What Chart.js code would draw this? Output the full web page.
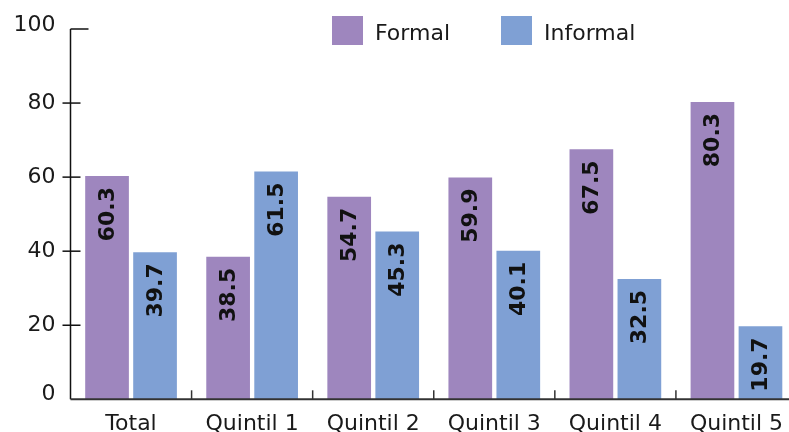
<!DOCTYPE html>
<html>
<script src="https://cdn.jsdelivr.net/npm/chart.js@4.4.0/dist/chart.umd.min.js"></script>
<body style="margin:0;overflow:hidden;background:#fff">

<canvas id="myChart" width="800" height="432"></canvas>

<script>
var categories = ["Total", "Quintil 1", "Quintil 2", "Quintil 3", "Quintil 4", "Quintil 5"];
var formalValues = [60.3, 38.5, 54.7, 59.9, 67.5, 80.3];
var informalValues = [39.7, 61.5, 45.3, 40.1, 32.5, 19.7];
var seriesNames = ["Formal", "Informal"];
var seriesColors = ["#9e86be", "#7fa0d4"];
var yTicks = [0, 20, 40, 60, 80, 100];

var FONT = "'DejaVu Sans', sans-serif";

// value labels written sideways near the top of each bar
var barLabels = {
  id: 'barLabels',
  afterDatasetsDraw(chart) {
    const ctx = chart.ctx;
    ctx.save();
    ctx.fillStyle = '#111';
    ctx.font = "bold 22px " + FONT;
    ctx.textAlign = 'right';
    ctx.textBaseline = 'middle';
    chart.data.datasets.forEach((ds, i) => {
      chart.getDatasetMeta(i).data.forEach((bar, j) => {
        ctx.save();
        ctx.translate(bar.x + 1, bar.y + 11);
        ctx.rotate(-Math.PI / 2);
        ctx.fillText(ds.data[j].toFixed(1), 0, 0);
        ctx.restore();
      });
    });
    ctx.restore();
  }
};

// axes, tick marks, y labels and the legend
var axisDecor = {
  id: 'axisDecor',
  afterDraw(chart) {
    const ctx = chart.ctx;
    const area = chart.chartArea;
    const x = chart.scales.x, y = chart.scales.y;
    ctx.save();
    // y axis
    ctx.strokeStyle = '#111';
    ctx.lineWidth = 1.5;
    ctx.beginPath();
    ctx.moveTo(area.left, y.getPixelForValue(100));
    ctx.lineTo(area.left, area.bottom);
    ctx.stroke();
    ctx.fillStyle = '#1a1a1a';
    ctx.font = "22px " + FONT;
    ctx.textAlign = 'right';
    ctx.textBaseline = 'middle';
    yTicks.forEach(v => {
      const py = y.getPixelForValue(v);
      const shift = (v === 0 ? -5 : (v === 100 ? -4 : 0));
      ctx.fillText(String(v), area.left - 15, py + shift);
      if (v === 0) return;
      ctx.beginPath();
      if (v === 100) {
        ctx.moveTo(area.left, py);
        ctx.lineTo(area.left + 18, py);
      } else {
        ctx.moveTo(area.left - 8, py);
        ctx.lineTo(area.left + 10, py);
      }
      ctx.stroke();
    });
    // x axis
    ctx.strokeStyle = '#333';
    ctx.lineWidth = 2;
    ctx.beginPath();
    ctx.moveTo(area.left, area.bottom);
    ctx.lineTo(area.right, area.bottom);
    ctx.stroke();
    ctx.lineWidth = 1.5;
    for (let i = 1; i < categories.length; i++) {
      const px = (x.getPixelForTick(i - 1) + x.getPixelForTick(i)) / 2;
      ctx.beginPath();
      ctx.moveTo(px, area.bottom);
      ctx.lineTo(px, area.bottom - 9);
      ctx.stroke();
    }
    // legend
    const legendX = [332, 501];
    ctx.font = "22px " + FONT;
    ctx.textAlign = 'left';
    ctx.textBaseline = 'middle';
    seriesNames.forEach((name, i) => {
      ctx.fillStyle = seriesColors[i];
      ctx.fillRect(legendX[i], 16, 31, 29);
      ctx.fillStyle = '#1a1a1a';
      ctx.fillText(name, legendX[i] + 43, 34);
    });
    ctx.restore();
  }
};

new Chart("myChart", {
  type: 'bar',
  data: {
    labels: categories,
    datasets: [
      { label: seriesNames[0], data: formalValues, backgroundColor: seriesColors[0] },
      { label: seriesNames[1], data: informalValues, backgroundColor: seriesColors[1] }
    ]
  },
  options: {
    responsive: false,
    animation: false,
    layout: { padding: { top: 29, right: 3, left: 0, bottom: 0 } },
    datasets: { bar: { categoryPercentage: 0.793, barPercentage: 0.91 } },
    plugins: {
      legend: { display: false },
      tooltip: { enabled: false }
    },
    scales: {
      x: {
        grid: { display: false, drawTicks: false },
        border: { display: false },
        ticks: { color: '#1a1a1a', font: { family: FONT, size: 22 }, padding: 12, maxRotation: 0 },
        afterFit(scale) { scale.height = 32.7; }
      },
      y: {
        min: 0, max: 100,
        grid: { display: false, drawTicks: false },
        border: { display: false },
        ticks: { stepSize: 20, display: false },
        afterFit(scale) { scale.width = 70.5; }
      }
    }
  },
  plugins: [barLabels, axisDecor]
});
</script>

</body>
</html>
